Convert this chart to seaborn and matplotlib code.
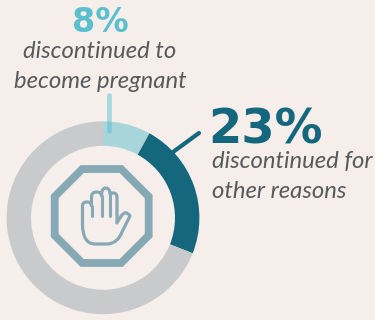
import matplotlib
matplotlib.use("Agg")
import matplotlib.pyplot as plt
import seaborn as sns
from matplotlib.patches import RegularPolygon, PathPatch
from matplotlib.path import Path

# Share of users by outcome, clockwise from twelve o'clock
outcomes = ["discontinued to become pregnant", "discontinued for other reasons", "continued"]
shares = [8, 23, 69]
ring_colors = ["#A8D5DA", "#14677D", "#C8CACB"]

BACKGROUND = "#F5EEEB"
TEXT = "#58595B"
ICON = "#86A9B5"
HEIGHT = 320

sns.set_theme(style="white", rc={"figure.facecolor": BACKGROUND, "axes.facecolor": BACKGROUND})
plt.rcParams["font.family"] = ["Lato", "DejaVu Sans"]

fig = plt.figure(figsize=(3.75, 3.2), dpi=100)
ax = fig.add_axes([0, 0, 1, 1])


def flip(y):
    return HEIGHT - y


# Donut
cx, cy, outer, inner = 103, 217.8, 96.4, 72
ax.pie(shares, colors=ring_colors, startangle=90, counterclock=False,
       center=(cx, flip(cy)), radius=outer, frame=True,
       wedgeprops={"width": outer - inner, "linewidth": 0})
ax.set_xlim(0, 375)
ax.set_ylim(0, HEIGHT)
ax.set_aspect("equal")
ax.axis("off")

# Leader lines from the ring to the two figures
ax.plot([108.7, 108.7], [flip(95), flip(131)], color="#5ABFCF", alpha=0.5, lw=3.4,
        solid_capstyle="round", zorder=4)
ax.plot([173, 199], [flip(152), flip(133)], color=ring_colors[1], lw=3.0,
        solid_capstyle="round", zorder=1)

# Stop sign
ax.add_patch(RegularPolygon((101.7, flip(216)), numVertices=8, radius=50.5 / 0.9239 - 3.8,
                            orientation=0.3927, fill=False, edgecolor=ICON, lw=5.6,
                            joinstyle="miter", zorder=3))

# Raised hand inside the sign
hand_codes = [Path.MOVETO,
              Path.LINETO, Path.CURVE3, Path.CURVE3, Path.CURVE3, Path.CURVE3,
              Path.LINETO, Path.CURVE3, Path.CURVE3, Path.CURVE3, Path.CURVE3,
              Path.CURVE3, Path.CURVE3, Path.CURVE3, Path.CURVE3,
              Path.CURVE3, Path.CURVE3, Path.CURVE3, Path.CURVE3,
              Path.LINETO, Path.CURVE3, Path.CURVE3, Path.CURVE3, Path.CURVE3,
              Path.LINETO, Path.CURVE3, Path.CURVE3, Path.LINETO, Path.CURVE3, Path.CURVE3]
hand_outline = [(82.5, 225),
                (82.5, 206), (82.5, 202), (87, 202), (91.5, 202), (91.5, 206),
                (91.5, 197), (91.5, 192), (96.5, 192), (101.5, 192), (101.5, 196),
                (101.5, 188), (105.5, 188), (110, 188), (110, 194),
                (110, 193), (113.5, 193), (117, 193), (117, 198),
                (117, 223), (117, 222), (122, 215), (126, 210), (130, 216),
                (122, 232), (118, 243), (108, 244), (95, 244), (83, 244), (82.5, 225)]
hand_verts = [(x, flip(y)) for x, y in hand_outline]
ax.add_patch(PathPatch(Path(hand_verts, hand_codes), fill=False, edgecolor=ICON, lw=2.3,
                       joinstyle="round", zorder=3))
for x, top, bottom in [(91.5, 206, 216), (101.5, 196, 216), (110, 194, 216)]:
    ax.plot([x, x], [flip(top), flip(bottom)], color=ICON, lw=2.2, solid_capstyle="round", zorder=3)

# Large percentage figures
ax.text(100.5, flip(32), f"{shares[0]}%", color="#5ABFCF", fontsize=24, fontweight="bold",
        family="DejaVu Sans", ha="center", va="baseline")
ax.text(265, flip(143), f"{shares[1]}%", color="#14677D", fontsize=34.5, fontweight="bold",
        family="DejaVu Sans", ha="center", va="baseline")

# Captions
caption_style = dict(color=TEXT, fontsize=17.2, style="italic", family="Lato", va="baseline")
ax.text(100, flip(58), "discontinued to", ha="center", **caption_style)
ax.text(100, flip(87.7), "become pregnant", ha="center", **caption_style)
ax.text(212.5, flip(167.7), "discontinued for", ha="left", **caption_style)
ax.text(212.5, flip(197.7), "other reasons", ha="left", **caption_style)

fig.savefig("out.png", dpi=100, facecolor=BACKGROUND)
